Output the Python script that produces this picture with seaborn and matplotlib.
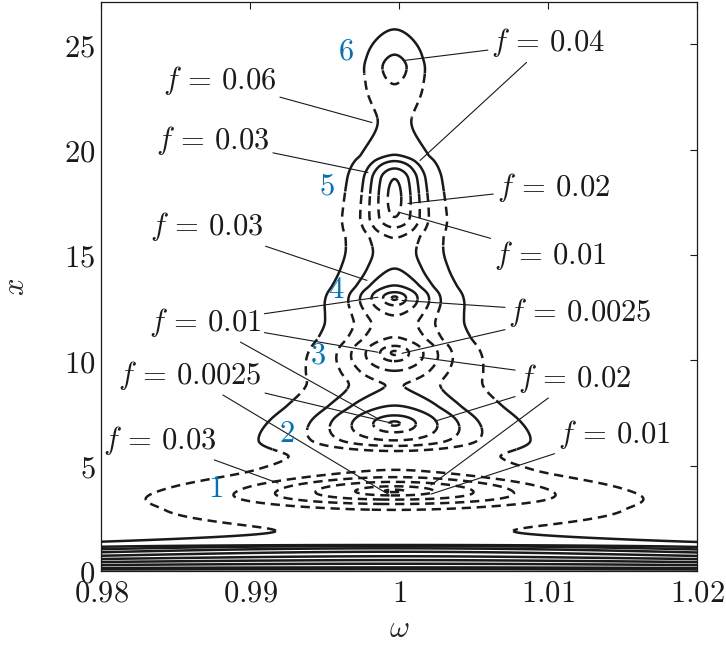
import numpy as np
import matplotlib
matplotlib.use("Agg")
import matplotlib.pyplot as plt
import seaborn as sns

# ---------------- data ----------------
# signed centre-line profile B(x) of f along omega = omega0 (f = |B| there)
profile_x = [0.0, 0.6, 1.15, 1.39, 1.86, 2.9, 3.8, 4.8, 5.4, 6.2, 7.0, 7.85,
             8.8, 9.5, 10.35, 11.1, 11.7, 12.2, 12.95, 13.55, 14.35, 15.1,
             15.8, 16.3, 16.8, 17.7, 18.6, 19.1, 19.45, 19.75, 21.3, 23.1,
             23.9, 24.5, 25.7, 27.5]
profile_b = [0.0, 0.0174, 0.033, 0.0534, 0.0581, 0.040, 0.0, -0.040, -0.046,
             -0.020, 0.0, 0.020, 0.0295, 0.020, 0.0, -0.020, -0.024, -0.019,
             0.0, 0.020, 0.030, 0.0335, 0.030, 0.020, 0.010, 0.006, 0.010,
             0.020, 0.030, 0.040, 0.055, 0.040, 0.035, 0.040, 0.060, 0.085]
omega0 = 0.9997
levels_main = [0.0025, 0.01, 0.02, 0.03, 0.04, 0.06]
levels_wall = [0.005, 0.015, 0.025, 0.035]

x_ticks = [0.98, 0.99, 1.0, 1.01, 1.02]
x_ticklabels = ["0.98", "0.99", "1", "1.01", "1.02"]
y_ticks = [0, 5, 10, 15, 20, 25]

ann_text = ["0.04", "0.06", "0.03", "0.02", "0.01", "0.03", "0.01",
            "0.0025", "0.0025", "0.02", "0.01", "0.03"]
ann_text_w = [1.0100, 0.98799, 0.98752, 1.01034, 1.01013, 0.98711, 0.98698,
              1.01215, 0.98597, 1.01181, 1.01443, 0.98396]
ann_text_x = [25.07, 23.27, 20.43, 18.20, 14.98, 16.35, 11.80, 12.27, 9.29,
              9.15, 6.49, 6.21]
ann_target_w = [[1.00027, 1.00141], [0.99819], [0.99792], [1.00060],
                 [1.00007], [0.99785], [0.99859, 0.99859, 0.99852],
                 [1.00020, 1.00020], [0.99953, 0.99926],
                 [1.00141, 1.00242, 1.00215], [1.00215], [0.99188]]
ann_target_x = [[24.22, 19.48], [21.28], [18.91], [17.44], [17.01], [13.79],
                [12.99, 10.38, 7.25], [12.84, 10.33], [7.01, 3.65],
                [10.14, 7.11, 4.08], [3.65], [4.17]]

region_labels = ["1", "2", "3", "4", "5", "6"]
region_w = [0.98765, 0.99248, 0.99456, 0.99577, 0.99517, 0.99644]
region_x = [3.93, 6.54, 10.24, 13.36, 18.25, 24.69]


# ---------------- helpers ----------------
def pchip(xk, yk, xq):
    xk = np.asarray(xk, float)
    yk = np.asarray(yk, float)
    h = np.diff(xk)
    d = np.diff(yk) / h
    m = np.zeros_like(yk)
    for i in range(1, len(xk) - 1):
        if d[i - 1] * d[i] > 0:
            w1 = 2 * h[i] + h[i - 1]
            w2 = h[i] + 2 * h[i - 1]
            m[i] = (w1 + w2) / (w1 / d[i - 1] + w2 / d[i])
    m[0] = d[0]
    m[-1] = d[-1]
    idx = np.clip(np.searchsorted(xk, xq) - 1, 0, len(h) - 1)
    t = (xq - xk[idx]) / h[idx]
    h00 = 2 * t**3 - 3 * t**2 + 1
    h10 = t**3 - 2 * t**2 + t
    h01 = -2 * t**3 + 3 * t**2
    h11 = t**3 - t**2
    return (h00 * yk[idx] + h10 * h[idx] * m[idx] + h01 * yk[idx + 1]
            + h11 * h[idx] * m[idx + 1])


# ---------------- field ----------------
omega = np.linspace(0.98, 1.02, 1600)
xs = np.linspace(0.0, 27.0, 1800)
W, X = np.meshgrid(omega, xs)
B = pchip(profile_x, profile_b, xs)[:, None]
F = np.sqrt(B**2 + (X * (W - omega0))**2)
dfdx = np.gradient(F, xs, axis=0)

dw = np.abs(W - omega0)
dashed = np.zeros(F.shape, bool)
hi1 = np.interp(dw, [0, 0.006, 0.0092, 0.03], [7.0, 6.8, 5.3, 5.3])
dashed |= ((X > 2.3) | ((X > 1.6) & (dfdx < 0))) & (X < hi1)
lo2 = np.interp(dw, [0, 0.004, 0.0065, 0.03], [8.75, 8.6, 8.1, 8.1])
hi2 = np.interp(dw, [0, 0.003, 0.0045, 0.03], [12.95, 12.8, 11.1, 11.1])
dashed |= (X > lo2) & (X < hi2)
hi3 = np.interp(dw, [0, 0.0025, 0.03], [17.7, 18.0, 18.0])
dashed |= (X > 15.4) & (X < hi3)
hi4 = np.interp(dw, [0, 0.0015, 0.03], [24.0, 23.6, 23.6])
dashed |= (X > 21.5) & (X < hi4)

# ---------------- style ----------------
sns.set_theme(style="white")
plt.rcParams["font.family"] = ["DejaVu Serif"]
plt.rcParams["mathtext.fontset"] = "cm"

fs = 22
fig = plt.figure(figsize=(7.26, 6.46), dpi=100)
ax = fig.add_axes([0.1391, 0.1161, 0.8210, 0.8808])

lw = 1.8
ax.contour(W, X, np.ma.masked_where(dashed, F), levels=levels_main,
           colors="k", linewidths=lw, linestyles="solid")
ax.contour(W, X, np.ma.masked_where(~dashed, F), levels=levels_main,
           colors="k", linewidths=lw, linestyles=[(0, (3.7, 2.3))])
ax.contour(W, X, np.ma.masked_where(X > 1.3, F), levels=levels_wall,
           colors="k", linewidths=lw, linestyles="solid")

ax.set_xlim(0.98, 1.02)
ax.set_ylim(0, 27)
ax.set_xticks(x_ticks)
ax.set_xticklabels(["$%s$" % s for s in x_ticklabels])
ax.set_yticks(y_ticks)
ax.set_yticklabels(["$%d$" % v for v in y_ticks])
ax.tick_params(direction="in", top=True, right=True, length=5, width=0.8,
               labelsize=fs, colors="k")
ax.tick_params(axis="x", pad=5)
ax.tick_params(axis="y", pad=4)
for sp in ax.spines.values():
    sp.set_color("k")
    sp.set_linewidth(0.9)
ax.set_xlabel(r"$\omega$", fontsize=fs, labelpad=3)
ax.set_ylabel(r"$x$", fontsize=fs, labelpad=24)

for txt, tw, tx, tws, txs in zip(ann_text, ann_text_w, ann_text_x,
                                 ann_target_w, ann_target_x):
    for j, (pw, px) in enumerate(zip(tws, txs)):
        ax.annotate(r"$f\, =\, %s$" % txt, xy=(pw, px), xytext=(tw, tx),
                    textcoords="data", ha="center", va="center", fontsize=fs,
                    color="k" if j == 0 else (0, 0, 0, 0),
                    arrowprops=dict(arrowstyle="-", color="k", lw=0.8,
                                    shrinkA=0, shrinkB=0))

for lab, rw, rx in zip(region_labels, region_w, region_x):
    ax.text(rw, rx, "$%s$" % lab, color="#0072BD", fontsize=fs,
            ha="center", va="center")

fig.savefig("out.png", dpi=100)
